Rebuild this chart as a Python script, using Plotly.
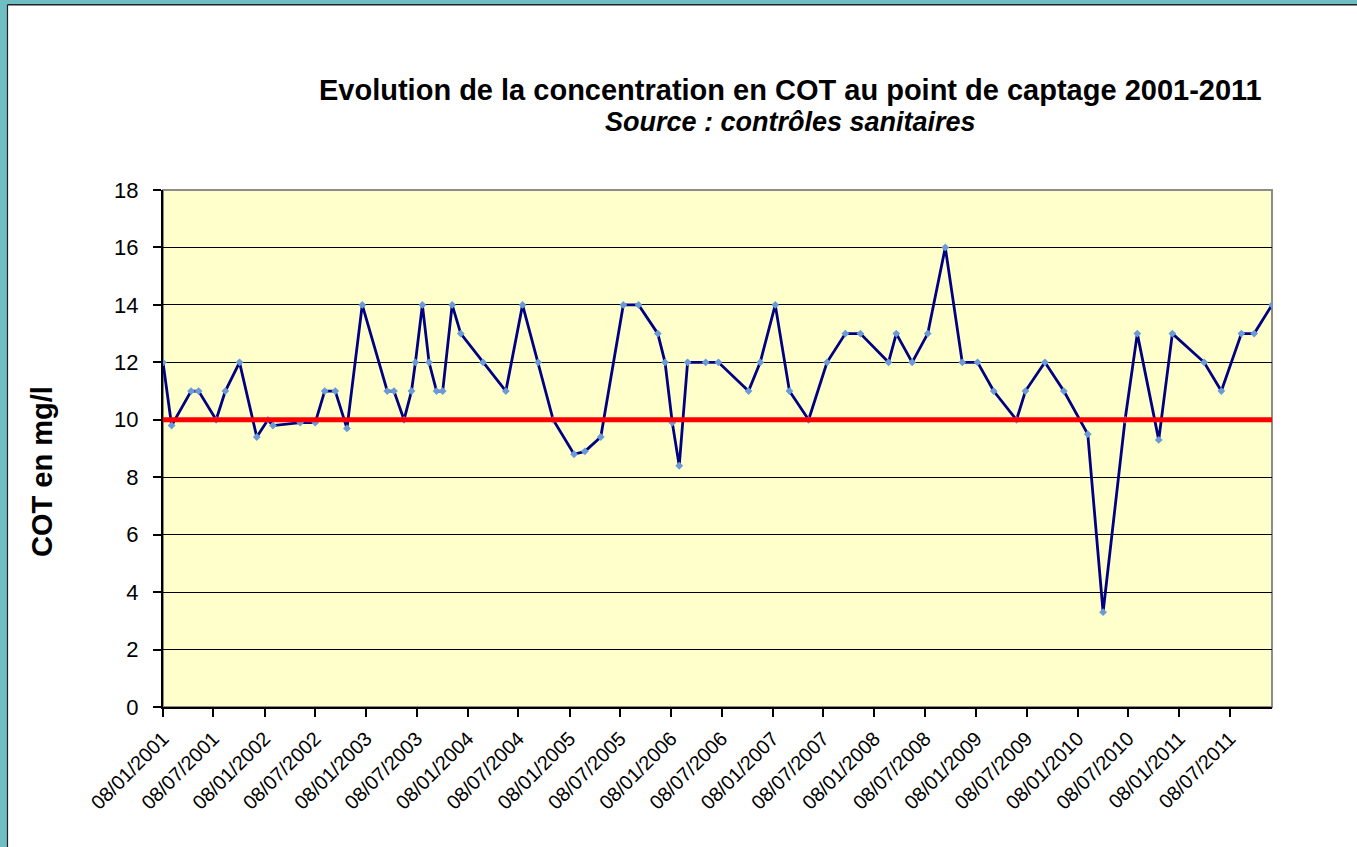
import plotly.graph_objects as go

# ---- data ----
dates = [
    "2001-01-08", "2001-02-08", "2001-04-19", "2001-05-16", "2001-07-18", "2001-08-20",
    "2001-10-10", "2001-12-11", "2002-01-20", "2002-02-07", "2002-05-16", "2002-07-09",
    "2002-08-12", "2002-09-19", "2002-10-31", "2002-12-25", "2003-03-25", "2003-04-18",
    "2003-05-24", "2003-06-20", "2003-07-04", "2003-07-29", "2003-08-22", "2003-09-18",
    "2003-10-10", "2003-11-13", "2003-12-14", "2004-03-03", "2004-05-24", "2004-07-23",
    "2004-09-17", "2004-11-10", "2005-01-24", "2005-03-04", "2005-04-30", "2005-07-20",
    "2005-09-13", "2005-11-21", "2005-12-17", "2006-01-12", "2006-02-06", "2006-03-08",
    "2006-05-12", "2006-06-27", "2006-10-13", "2006-11-24", "2007-01-17", "2007-03-09",
    "2007-05-17", "2007-07-22", "2007-09-26", "2007-11-19", "2008-02-28", "2008-03-27",
    "2008-05-23", "2008-07-18", "2008-09-19", "2008-11-19", "2009-01-13", "2009-03-12",
    "2009-06-02", "2009-07-04", "2009-09-12", "2009-11-19", "2010-02-13", "2010-04-09",
    "2010-06-27", "2010-08-10", "2010-10-26", "2010-12-14", "2011-04-07", "2011-06-08",
    "2011-08-19", "2011-10-04", "2011-12-07",
]
cot = [
    12, 9.8, 11, 11, 10, 11,
    12, 9.4, 10, 9.8, 9.9, 9.9,
    11, 11, 9.7, 14, 11, 11,
    10, 11, 12, 14, 12, 11,
    11, 14, 13, 12, 11, 14,
    12, 10, 8.8, 8.9, 9.4, 14,
    14, 13, 12, 9.9, 8.4, 12,
    12, 12, 11, 12, 14, 11,
    10, 12, 13, 13, 12, 13,
    12, 13, 16, 12, 12, 11,
    10, 11, 12, 11, 9.5, 3.3,
    10, 13, 9.3, 13, 12, 11,
    13, 13, 14,
]
threshold = 10

tick_dates = [f"{y}-{m}-08" for y in range(2001, 2012) for m in ("01", "07")]
tick_labels = [f"08/{m}/{y}" for y in range(2001, 2012) for m in ("01", "07")]

title = "Evolution de la concentration en COT au point de captage 2001-2011"
subtitle = "Source : contrôles sanitaires"
y_title = "COT en mg/l"

# ---- layout geometry (pixels) ----
W, H = 1357, 847
L, R, T, B = 163, 1272, 190, 707
FONT = "Liberation Sans, Arial, sans-serif"


def px(x):
    return (x - L) / (R - L)


def py(y):
    return (B - y) / (B - T)


fig = go.Figure()
fig.add_trace(go.Scatter(
    x=dates, y=cot, mode="lines+markers",
    line=dict(color="#000080", width=2.8),
    marker=dict(symbol="diamond", size=6, color="#6A9BD8"),
    showlegend=False, hoverinfo="x+y",
))
fig.add_trace(go.Scatter(
    x=[dates[0], dates[-1]], y=[threshold, threshold], mode="lines",
    line=dict(color="#FF0000", width=5),
    showlegend=False, hoverinfo="skip",
))

shapes = [
    # teal page frame (left and top)
    dict(type="rect", xref="paper", yref="paper", x0=px(0), x1=px(7), y0=py(H), y1=py(0),
         fillcolor="#6FBEC4", line=dict(width=0), layer="below"),
    dict(type="rect", xref="paper", yref="paper", x0=px(0), x1=px(W), y0=py(4), y1=py(0),
         fillcolor="#6FBEC4", line=dict(width=0), layer="below"),
    dict(type="line", xref="paper", yref="paper", x0=px(7.5), x1=px(7.5), y0=py(H), y1=py(4.5),
         line=dict(color="#222222", width=1.2)),
    dict(type="line", xref="paper", yref="paper", x0=px(7.5), x1=px(W), y0=py(4.8), y1=py(4.8),
         line=dict(color="#222222", width=1.5)),
    # plot area border (grey)
    dict(type="rect", xref="paper", yref="paper", x0=0, x1=1, y0=0, y1=1,
         line=dict(color="#8C8C8C", width=2), fillcolor="rgba(0,0,0,0)", layer="below"),
]

annotations = [
    dict(text=f"<b>{title}</b>", xref="paper", yref="paper", x=px(790), y=py(90),
         showarrow=False, xanchor="center", yanchor="middle",
         font=dict(family=FONT, size=29, color="black")),
    dict(text=f"<b><i>{subtitle}</i></b>", xref="paper", yref="paper", x=px(790), y=py(122),
         showarrow=False, xanchor="center", yanchor="middle",
         font=dict(family=FONT, size=27, color="black")),
    dict(text=f"<b>{y_title}</b>", xref="paper", yref="paper", x=px(42), y=py(472),
         showarrow=False, xanchor="center", yanchor="middle", textangle=-90,
         font=dict(family=FONT, size=29, color="black")),
]

fig.update_layout(
    width=W, height=H,
    margin=dict(l=L, r=W - R, t=T, b=H - B, pad=0),
    paper_bgcolor="white", plot_bgcolor="#FFFFCC",
    shapes=shapes, annotations=annotations,
    font=dict(family=FONT, color="black"),
    xaxis=dict(
        type="date", range=[dates[0], dates[-1]],
        tickmode="array", tickvals=tick_dates, ticktext=tick_labels,
        tickangle=-45, tickfont=dict(family=FONT, size=20, color="black"),
        ticks="outside", ticklen=8, tickcolor="black", tickwidth=1.5,
        showgrid=False, showline=True, linecolor="black", linewidth=2,
        zeroline=False, ticklabelstandoff=2,
    ),
    yaxis=dict(
        range=[0, 18], tickmode="array", tickvals=list(range(0, 19, 2)),
        tickfont=dict(family=FONT, size=22, color="black"),
        ticks="outside", ticklen=8, tickcolor="black", tickwidth=1.5,
        showgrid=True, gridcolor="black", gridwidth=1,
        showline=True, linecolor="black", linewidth=2,
        zeroline=False, ticklabelstandoff=10,
    ),
)

fig.write_html("out.html", config={"displayModeBar": False},
               post_script="document.body.style.margin='0';document.body.style.overflow='hidden';")
